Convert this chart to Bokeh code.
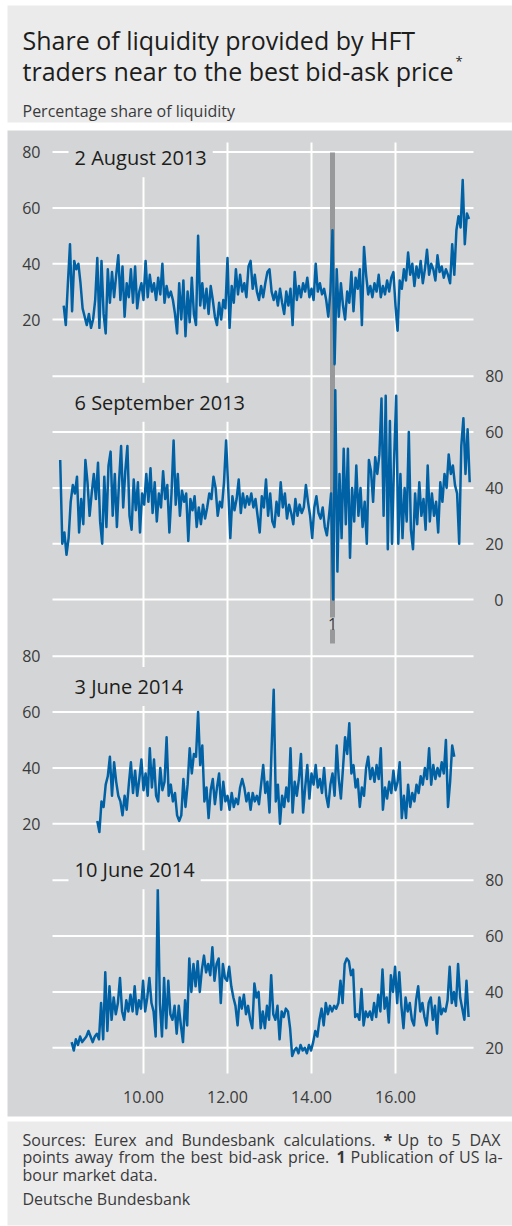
import numpy as np
from bokeh.plotting import figure
from bokeh.models import Range1d, Label
from bokeh.core.properties import value
from bokeh.embed import file_html
from bokeh.resources import INLINE

# ---------------- data ----------------
title_lines = ["Share of liquidity provided by HFT", "traders near to the best bid-ask price"]
title_mark = "*"
subtitle = "Percentage share of liquidity"
panel_names = ["2 August 2013", "6 September 2013", "3 June 2014", "10 June 2014"]
x_ticks = [10, 12, 14, 16]
x_tick_labels = ["10.00", "12.00", "14.00", "16.00"]
y_ticks = [[20, 40, 60, 80], [0, 20, 40, 60, 80], [20, 40, 60, 80], [20, 40, 60, 80]]
event_time = 14.5          # publication of US labour market data (CET)
event_label = "1"

step_h = 0.05              # 3-minute observations, in hours
start_h = [8.10, 8.0167, 8.90, 8.29]

aug_2013 = [25, 18, 33, 47, 23, 41, 38, 40, 33, 24,
            21, 18, 22, 17, 20, 27, 42, 17, 41, 22,
            15, 38, 26, 37, 28, 36, 43, 27, 39, 21,
            33, 28, 38, 26, 39, 24, 30, 33, 27, 41,
            28, 36, 30, 33, 27, 35, 29, 40, 26, 32,
            28, 30, 27, 22, 15, 33, 20, 34, 14, 30,
            19, 35, 22, 18, 50, 25, 33, 24, 31, 22,
            32, 27, 21, 18, 26, 20, 27, 24, 42, 17,
            32, 26, 38, 29, 36, 30, 33, 28, 39, 41,
            31, 36, 30, 27, 32, 28, 33, 37, 38, 30,
            27, 30, 25, 31, 26, 22, 30, 25, 31, 18,
            37, 27, 32, 28, 33, 30, 35, 28, 31, 27,
            40, 30, 33, 29, 31, 27, 21, 30, 52, 4,
            38, 21, 33, 25, 20, 30, 26, 37, 23, 35,
            31, 38, 18, 46, 36, 29, 32, 28, 33, 30,
            36, 28, 32, 29, 34, 30, 35, 37, 25, 16,
            34, 31, 38, 34, 44, 36, 40, 32, 39, 35,
            41, 33, 38, 45, 36, 40, 38, 34, 43, 37,
            39, 35, 38, 36, 33, 47, 36, 52, 57, 53,
            70, 47, 58, 56]

sep_2013 = [50, 20, 24, 16, 22, 35, 41, 38, 44, 24,
            36, 27, 50, 42, 30, 38, 45, 36, 49, 28,
            20, 44, 26, 48, 53, 30, 45, 26, 42, 55,
            33, 46, 55, 30, 25, 43, 32, 42, 24, 38,
            34, 45, 35, 47, 31, 42, 28, 38, 33, 46,
            36, 41, 24, 38, 57, 34, 45, 30, 39, 35,
            38, 21, 36, 32, 37, 26, 33, 27, 34, 29,
            33, 38, 36, 44, 40, 30, 35, 33, 42, 57,
            40, 22, 37, 32, 36, 43, 31, 38, 33, 37,
            34, 38, 33, 36, 30, 24, 37, 33, 43, 30,
            38, 28, 26, 35, 30, 42, 33, 38, 29, 34,
            31, 27, 36, 30, 34, 31, 33, 41, 35, 30,
            22, 33, 37, 31, 29, 33, 26, 23, 30, 38,
            0, 75, 10, 45, 22, 54, 27, 54, 15, 40,
            28, 48, 30, 40, 26, 35, 20, 50, 46, 35,
            51, 45, 52, 72, 30, 73, 18, 64, 20, 50,
            73, 20, 45, 22, 40, 28, 60, 25, 18, 38,
            27, 42, 30, 36, 25, 48, 28, 38, 30, 35,
            24, 42, 35, 45, 40, 52, 45, 48, 41, 38,
            20, 55, 65, 45, 61, 42]

jun3_2014 = [21, 17, 28, 26, 34, 37, 44, 30, 42, 35,
             30, 28, 23, 30, 25, 34, 42, 31, 39, 30,
             36, 43, 32, 38, 30, 47, 33, 43, 30, 28,
             40, 32, 35, 51, 30, 34, 28, 31, 23, 21,
             23, 36, 26, 34, 47, 38, 45, 44, 60, 41,
             48, 28, 33, 22, 32, 36, 27, 33, 38, 25,
             35, 28, 30, 25, 31, 26, 29, 27, 33, 36,
             33, 28, 31, 25, 31, 28, 30, 27, 34, 41,
             31, 35, 24, 47, 68, 28, 34, 20, 30, 26,
             33, 28, 47, 24, 35, 30, 36, 45, 24, 33,
             41, 29, 38, 34, 41, 33, 36, 31, 40, 30,
             26, 34, 38, 30, 48, 36, 29, 40, 51, 45,
             56, 38, 41, 33, 36, 26, 33, 30, 40, 44,
             36, 40, 35, 41, 36, 47, 25, 33, 29, 35,
             31, 39, 32, 35, 42, 22, 30, 22, 34, 26,
             31, 28, 34, 31, 37, 34, 40, 36, 47, 34,
             41, 36, 40, 37, 42, 38, 50, 26, 35, 48,
             44]

jun10_2014 = [22, 19, 23, 21, 24, 22, 23, 24, 26, 24,
              22, 24, 25, 23, 36, 23, 47, 26, 42, 30,
              38, 32, 36, 45, 33, 30, 37, 33, 39, 33,
              42, 32, 37, 34, 44, 33, 38, 45, 36, 33,
              24, 77, 36, 24, 45, 27, 44, 32, 30, 35,
              25, 35, 28, 22, 37, 28, 52, 40, 50, 42,
              51, 40, 48, 53, 47, 50, 46, 56, 44, 50,
              52, 36, 50, 45, 44, 49, 42, 38, 35, 28,
              38, 34, 39, 32, 35, 30, 27, 43, 38, 40,
              27, 33, 27, 35, 30, 46, 32, 30, 35, 23,
              33, 31, 34, 33, 27, 17, 19, 20, 18, 21,
              19, 20, 18, 21, 19, 22, 26, 24, 30, 34,
              28, 36, 32, 35, 33, 35, 34, 36, 44, 36,
              50, 52, 51, 46, 48, 31, 32, 30, 41, 28,
              33, 31, 33, 30, 36, 31, 39, 33, 48, 34,
              38, 29, 46, 40, 49, 36, 47, 35, 27, 38,
              33, 36, 30, 28, 37, 42, 33, 36, 31, 28,
              36, 38, 30, 35, 25, 38, 32, 34, 33, 37,
              49, 36, 40, 35, 50, 38, 34, 30, 44, 31]

series = [aug_2013, sep_2013, jun3_2014, jun10_2014]

# footer words (justified lines are set word by word)
footer_l1 = ["Sources:", "Eurex", "and", "Bundesbank", "calculations.", "*", "Up", "to", "5", "DAX"]
footer_l1_bold = [False, False, False, False, False, True, False, False, False, False]
footer_l2 = ["points", "away", "from", "the", "best", "bid-ask", "price.", "1", "Publication", "of", "US", "la-"]
footer_l2_bold = [False] * 7 + [True] + [False] * 4
footer_l3 = "bour market data."
footer_src = "Deutsche Bundesbank"

# ---------------- styling / layout ----------------
FONT = "Open Sans"
W, H = 512, 1226
LIGHT = "#ebebec"
CHART = "#d4d5d7"
BLUE = "#0062a5"
EVENT = "#98999b"
DARK = "#1d1d1b"
TICK = "#3a3a3a"

PXH = 42.0                       # pixels per hour
X0 = 10 - 143 / PXH              # hour at the left canvas edge
S = 2.79                         # pixels per percentage point
ZERO = [374.8, 599.0, 879.0, 1103.0]   # page y of value 0 in each panel
label_base = [157.3, 401.7, 686.0, 869.3]
left_side = [True, False, True, False]
l1_x = [22, 93.5, 144.5, 181, 283, 383, 397, 427, 451, 469]
l2_x = [22, 74, 118, 160, 190, 228, 287.5, 336, 350, 438, 458.5, 484]

p = figure(width=W, height=H, x_range=Range1d(X0, X0 + W / PXH),
           y_range=Range1d(H, 0), output_backend="svg",
           toolbar_location=None, x_axis_location=None, y_axis_location=None,
           min_border=0, outline_line_color=None,
           background_fill_color="white", border_fill_color="white")
p.grid.visible = False
p.extra_x_ranges = {"px": Range1d(0, W)}
for k in range(4):
    p.extra_y_ranges[f"p{k}"] = Range1d((ZERO[k] - H) / S, ZERO[k] / S)

# background bands
p.quad(left=[7], right=[520], top=[5], bottom=[122], x_range_name="px",
       fill_color=LIGHT, line_color=None)
p.quad(left=[7], right=[520], top=[130], bottom=[1116], x_range_name="px",
       fill_color=CHART, line_color=None)
p.quad(left=[7], right=[520], top=[1121], bottom=[1225], x_range_name="px",
       fill_color=LIGHT, line_color=None)

# grid lines
for k in range(4):
    p.segment(x0=52, x1=473, y0=y_ticks[k], y1=y_ticks[k], x_range_name="px",
              y_range_name=f"p{k}", line_color="white", line_width=2)
p.segment(x0=x_ticks, x1=x_ticks, y0=142, y1=1073, line_color="white", line_width=2)

# event marker
p.segment(x0=[event_time], x1=[event_time], y0=152, y1=643,
          line_color=EVENT, line_width=5, line_cap="butt")

# series
for k in range(4):
    t = start_h[k] + step_h * np.arange(len(series[k]))
    p.line(x=t, y=series[k], y_range_name=f"p{k}", line_color=BLUE,
           line_width=2.5, line_join="round")

# y tick labels
for k in range(4):
    xpos = 40 if left_side[k] else 503
    p.text(x=xpos, y=y_ticks[k], text=[str(v) for v in y_ticks[k]],
           x_range_name="px", y_range_name=f"p{k}", text_align="right",
           text_baseline="middle", text_font=value(FONT), text_font_size="16px",
           text_color=TICK)

# x tick labels
p.text(x=x_ticks, y=1096, text=x_tick_labels, text_align="center",
       text_baseline="middle", text_font=value(FONT), text_font_size="16px",
       text_color=TICK)

# panel names
for k in range(4):
    p.add_layout(Label(x=68, y=label_base[k], x_range_name="px", text=panel_names[k],
                       text_font=FONT, text_font_size="20px", text_color=DARK,
                       text_baseline="alphabetic", background_fill_color=CHART,
                       background_fill_alpha=1.0, padding=6))

p.add_layout(Label(x=event_time, y=623, text=event_label, text_font=FONT,
                   text_font_size="16px", text_color=TICK, text_align="center",
                   text_baseline="alphabetic", background_fill_color=CHART,
                   background_fill_alpha=1.0, padding=0))

# titles
p.text(x=22, y=[39.5, 70.5], text=title_lines, x_range_name="px",
       text_font=value(FONT), text_font_size="25px", text_color=DARK,
       text_baseline="alphabetic")
p.text(x=[455], y=[60], text=[title_mark], x_range_name="px",
       text_font=value(FONT), text_font_size="13px", text_color=DARK,
       text_baseline="alphabetic")
p.text(x=22, y=[110], text=[subtitle], x_range_name="px",
       text_font=value(FONT), text_font_size="16px", text_color=TICK,
       text_baseline="alphabetic")

# footer
FS = "16px"
def ftext(xs, y, words, bolds):
    for x, w, b in zip(xs, words, bolds):
        p.text(x=[x], y=[y], text=[w], x_range_name="px", text_font=value(FONT),
               text_font_size=FS, text_color=TICK, text_baseline="alphabetic",
               text_font_style="bold" if b else "normal")

ftext(l1_x, 1139, footer_l1, footer_l1_bold)
ftext(l2_x, 1156.7, footer_l2, footer_l2_bold)
ftext([22], 1174, [footer_l3], [False])
ftext([22], 1198.5, [footer_src], [False])

open("out.html", "w").write(file_html(p, INLINE))
